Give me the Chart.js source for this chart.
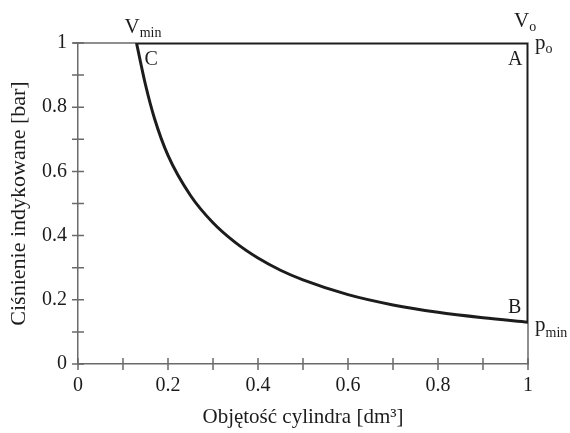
<!DOCTYPE html>
<html>
<head>
<meta charset="utf-8">
<script src="https://cdn.jsdelivr.net/npm/chart.js@4"></script>
<style>
  html, body { margin: 0; padding: 0; background: #fff; }
</style>
</head>
<body>
<canvas id="myChart" width="570" height="433"></canvas>
<script>
// objetosc [dm3] i cisnienie [bar] na krzywej C -> B
const volume = [0.13, 0.15, 0.17, 0.2, 0.25, 0.3, 0.35, 0.4, 0.45, 0.5, 0.6, 0.7, 0.8, 0.9, 1.0];
const pressure = [1.0, 0.87, 0.765, 0.65, 0.525, 0.44, 0.378, 0.33, 0.292, 0.262, 0.216, 0.184, 0.161, 0.144, 0.13];

const xTitle = 'Objętość cylindra [dm³]';
const yTitle = 'Ciśnienie indykowane [bar]';

const serif = "'Liberation Serif', 'Times New Roman', serif";
const ink = '#1c1c1c';
const axisGrey = '#6a6a6a';

const curve = volume.map((v, i) => ({ x: v, y: pressure[i] }));
const last = volume.length - 1;
// B -> A -> C
const closing = [
  { x: volume[last], y: pressure[last] },
  { x: volume[last], y: pressure[0] },
  { x: volume[0], y: pressure[0] }
];

function tickLabel(v) {
  const t = Math.round(v * 10);
  if (t % 2 !== 0) return '';
  return String(t / 10);
}

// cienka ramka i kreski podzialki przecinajace osie
const frameAndTicks = {
  id: 'frameAndTicks',
  beforeDatasetsDraw(chart) {
    const { ctx, chartArea: a, scales: { x, y } } = chart;
    ctx.save();
    ctx.strokeStyle = axisGrey;
    ctx.lineWidth = 1.5;
    ctx.beginPath();
    ctx.moveTo(a.left - 5, a.top);
    ctx.lineTo(a.right, a.top);
    ctx.lineTo(a.right, a.bottom);
    ctx.stroke();
    ctx.beginPath();
    x.ticks.forEach(t => {
      const px = x.getPixelForValue(t.value);
      ctx.moveTo(px, a.bottom - 6);
      ctx.lineTo(px, a.bottom + 6);
    });
    y.ticks.forEach(t => {
      const py = y.getPixelForValue(t.value);
      ctx.moveTo(a.left - 6, py);
      ctx.lineTo(a.left + 6, py);
    });
    ctx.stroke();
    ctx.restore();
  },
  afterDatasetsDraw(chart) {
    const { ctx, scales: { x, y } } = chart;
    const vMin = x.getPixelForValue(volume[0]);
    const vO = x.getPixelForValue(volume[last]);
    const pO = y.getPixelForValue(pressure[0]);
    const pMin = y.getPixelForValue(pressure[last]);

    function sub(main, small, px, py, dy) {
      ctx.font = '21px ' + serif;
      ctx.fillText(main, px, py);
      const w = ctx.measureText(main).width;
      ctx.font = '14px ' + serif;
      ctx.fillText(small, px + w, py + dy);
    }

    ctx.save();
    ctx.fillStyle = ink;
    ctx.textBaseline = 'alphabetic';
    ctx.textAlign = 'left';
    sub('V', 'min', vMin - 12, pO - 10, 4);
    sub('V', 'o', vO - 14, pO - 16, 4);
    sub('p', 'o', vO + 7, pO + 6, 4);
    sub('p', 'min', vO + 7, pMin + 9, 6);

    ctx.font = '20px ' + serif;
    ctx.fillText('A', vO - 20, pO + 22);
    ctx.fillText('B', vO - 20, pMin - 9);
    ctx.fillText('C', vMin + 8, pO + 22);
    ctx.restore();
  }
};

new Chart(document.getElementById('myChart'), {
  type: 'scatter',
  data: {
    datasets: [
      {
        data: curve,
        showLine: true,
        cubicInterpolationMode: 'monotone',
        borderColor: ink,
        borderWidth: 3,
        pointRadius: 0
      },
      {
        data: closing,
        showLine: true,
        borderColor: ink,
        borderWidth: 3,
        pointRadius: 0,
        borderJoinStyle: 'miter'
      }
    ]
  },
  options: {
    responsive: false,
    animation: false,
    devicePixelRatio: 1,
    layout: { padding: { top: 43, right: 42, left: 0, bottom: 0 } },
    plugins: {
      legend: { display: false },
      tooltip: { enabled: false }
    },
    scales: {
      x: {
        type: 'linear',
        min: 0,
        max: 1,
        afterFit(s) { s.height = 69; },
        grid: { display: false, drawTicks: false },
        border: { display: true, color: axisGrey, width: 1.5 },
        ticks: {
          stepSize: 0.1,
          autoSkip: false,
          maxRotation: 0,
          padding: 10,
          color: ink,
          font: { family: serif, size: 20 },
          callback: tickLabel
        },
        title: {
          display: true,
          text: xTitle,
          color: ink,
          font: { family: serif, size: 21 },
          padding: { top: 0, bottom: 3 }
        }
      },
      y: {
        type: 'linear',
        min: 0,
        max: 1,
        afterFit(s) { s.width = 78; },
        grid: { display: false, drawTicks: false },
        border: { display: true, color: axisGrey, width: 1.5 },
        ticks: {
          stepSize: 0.1,
          autoSkip: false,
          padding: 11,
          color: ink,
          font: { family: serif, size: 20 },
          callback: tickLabel
        },
        title: {
          display: true,
          text: yTitle,
          color: ink,
          font: { family: serif, size: 22 },
          padding: { top: 6, bottom: 0 }
        }
      }
    }
  },
  plugins: [frameAndTicks]
});
</script>
</body>
</html>
